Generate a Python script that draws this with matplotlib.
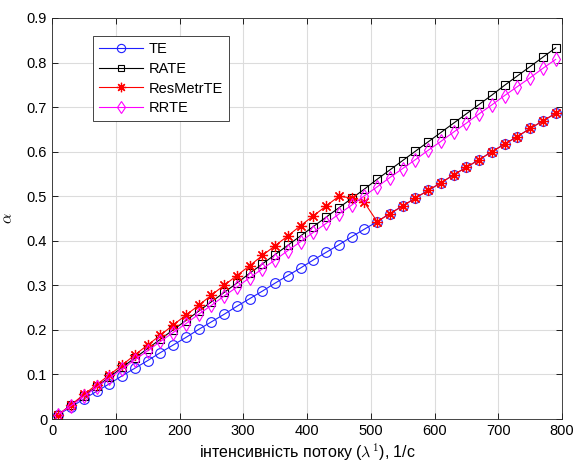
import matplotlib
matplotlib.use('Agg')
import matplotlib.pyplot as plt

# intensity values (1/s)
lam = [10, 30, 50, 70, 90, 110, 130, 150, 170, 190,
       210, 230, 250, 270, 290, 310, 330, 350, 370, 390,
       410, 430, 450, 470, 490, 510, 530, 550, 570, 590,
       610, 630, 650, 670, 690, 710, 730, 750, 770, 790]

te = [0.010, 0.027, 0.045, 0.062, 0.079, 0.097, 0.114, 0.131, 0.149, 0.166,
      0.183, 0.201, 0.218, 0.235, 0.253, 0.270, 0.287, 0.305, 0.322, 0.339,
      0.357, 0.374, 0.391, 0.409, 0.426, 0.443, 0.461, 0.478, 0.496, 0.513,
      0.530, 0.548, 0.565, 0.582, 0.600, 0.617, 0.634, 0.652, 0.669, 0.686]

rate = [0.010, 0.031, 0.052, 0.073, 0.094, 0.116, 0.137, 0.158, 0.179, 0.200,
        0.221, 0.242, 0.263, 0.284, 0.305, 0.327, 0.348, 0.369, 0.390, 0.411,
        0.432, 0.453, 0.474, 0.495, 0.516, 0.538, 0.559, 0.580, 0.601, 0.622,
        0.643, 0.664, 0.685, 0.706, 0.727, 0.749, 0.770, 0.791, 0.812, 0.833]

resmetr = [0.010, 0.032, 0.055, 0.077, 0.099, 0.121, 0.144, 0.166, 0.188, 0.211,
           0.233, 0.255, 0.278, 0.300, 0.322, 0.344, 0.367, 0.389, 0.411, 0.434,
           0.456, 0.478, 0.500, 0.496, 0.486, 0.443, 0.461, 0.478, 0.496, 0.513,
           0.530, 0.548, 0.565, 0.582, 0.600, 0.617, 0.634, 0.652, 0.669, 0.686]

rrte = [0.010, 0.030, 0.051, 0.071, 0.092, 0.112, 0.133, 0.153, 0.174, 0.194,
        0.214, 0.235, 0.255, 0.276, 0.296, 0.317, 0.337, 0.357, 0.378, 0.398,
        0.419, 0.439, 0.460, 0.480, 0.501, 0.521, 0.542, 0.562, 0.582, 0.603,
        0.623, 0.644, 0.664, 0.685, 0.705, 0.726, 0.746, 0.766, 0.787, 0.807]

plt.rcParams['font.family'] = ['Liberation Sans', 'DejaVu Sans']
plt.rcParams['mathtext.fontset'] = 'cm'

fig = plt.figure(figsize=(5.74, 4.71), dpi=100)
ax = fig.add_axes([0.0906, 0.1104, 0.8885, 0.8514])

lw = 0.8
ax.plot(lam, te, color='#1f1fff', lw=lw, marker='o', ms=7, mfc='none', mew=0.8, label='TE')
ax.plot(lam, rate, color='black', lw=lw, marker='s', ms=5.8, mfc='none', mew=0.8, label='RATE')
ax.plot(lam, resmetr, color='red', lw=lw, marker=(8, 2, 0), ms=8, mew=0.9, label='ResMetrTE')
ax.plot(lam, rrte, color='magenta', lw=lw, marker='d', ms=7.5, mfc='none', mew=0.8, label='RRTE')

ax.set_xlim(0, 800)
ax.set_ylim(0, 0.9)
ax.set_xticks(range(0, 801, 100))
ax.set_yticks([0, 0.1, 0.2, 0.3, 0.4, 0.5, 0.6, 0.7, 0.8, 0.9])
ax.set_yticklabels(['0', '0.1', '0.2', '0.3', '0.4', '0.5', '0.6', '0.7', '0.8', '0.9'])
ax.grid(True, color='#dcdcdc', lw=0.8)
ax.set_axisbelow(True)
ax.tick_params(direction='in', top=True, right=True, labelsize=10.5, length=4, width=0.6)
for s in ax.spines.values():
    s.set_linewidth(0.6)
    s.set_color('#262626')

ax.set_xlabel('інтенсивність потоку ($\\lambda^1$), 1/с', fontsize=11.5, labelpad=3)
ax.set_ylabel('$\\alpha$', fontsize=11.5, labelpad=8)

leg = ax.legend(loc='upper left', bbox_to_anchor=(0.081, 0.955), borderaxespad=0,
                fancybox=False, framealpha=1, edgecolor='#262626', fontsize=10.5,
                handlelength=3.0, handletextpad=0.4, labelspacing=0.4, borderpad=0.4,
                markerscale=0.85)
leg.get_frame().set_linewidth(0.6)

fig.savefig('out.png', dpi=100)
